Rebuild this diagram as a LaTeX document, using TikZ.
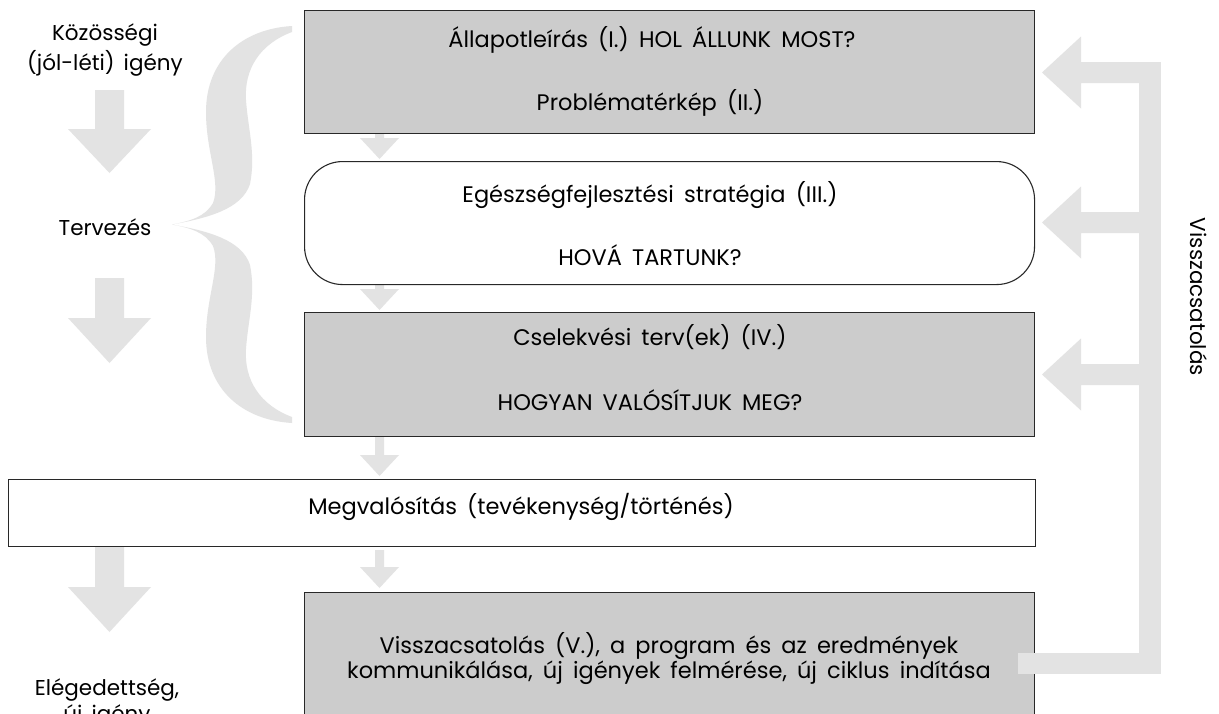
\documentclass[tikz,border=0pt]{standalone}
\usepackage{fontspec}
\setmainfont{Poppins}
\definecolor{arrowgray}{RGB}{227,227,227}
\definecolor{boxgray}{RGB}{204,204,204}
\definecolor{edgecol}{RGB}{40,40,40}
\newcommand\lblfont{\fontsize{21.5}{25}\selectfont\spaceskip=0.42em plus 0.1em\relax}
\newcommand\btxtfont{\fontsize{22.5}{26}\selectfont\spaceskip=0.45em plus 0.1em\relax}
\tikzset{
  gbox/.style={draw=edgecol, line width=1.1pt, fill=boxgray, rectangle, inner sep=0pt},
  wbox/.style={draw=edgecol, line width=1.1pt, fill=white, rectangle, inner sep=0pt},
  rbox/.style={draw=edgecol, line width=1.1pt, fill=white, rectangle, rounded corners=38pt, inner sep=0pt},
  afill/.style={fill=arrowgray, draw=none},
  lbl/.style={font=\lblfont, align=center, inner sep=0pt},
  btxt/.style={font=\btxtfont, align=center, inner sep=0pt},
}
% down block arrow: center x, shaft top, head top, tip, shaft half width, head half width
\newcommand\dblockarrow[6]{%
  \fill[afill] (#1-#5,#2) -- (#1+#5,#2) -- (#1+#5,#3) -- (#1+#6,#3) -- (#1,#4)
    -- (#1-#6,#3) -- (#1-#5,#3) -- cycle;}
% left block arrow: center y
\newcommand\lblockarrow[1]{%
  \fill[afill] (1042,#1) -- (1081,#1-36) -- (1081,#1-10.5) -- (1150,#1-10.5)
    -- (1150,#1+10.5) -- (1081,#1+10.5) -- (1081,#1+36) -- cycle;}
\begin{document}
\begin{tikzpicture}[x=1pt,y=-1pt]
\useasboundingbox (0,0) rectangle (1219,713);
\clip (0,0) rectangle (1219,713);
\fill[white] (0,0) rectangle (1219,713);

% brace
\fill[afill] (292,26) .. controls (242,29) and (206,60) .. (206,112)
  .. controls (206,152) and (221,182) .. (213,203)
  .. controls (205,217) and (190,221) .. (172,224.5)
  .. controls (190,228) and (205,232) .. (213,246)
  .. controls (221,267) and (206,297) .. (206,337)
  .. controls (206,389) and (242,420) .. (292,423)
  -- (292,417)
  .. controls (260,405) and (244,380) .. (246,349)
  .. controls (248,320) and (256,295) .. (250,265)
  .. controls (242,240) and (208,231) .. (172,224.5)
  .. controls (208,218) and (242,209) .. (250,184)
  .. controls (256,154) and (248,129) .. (246,100)
  .. controls (244,69) and (260,44) .. (292,32) -- cycle;

% left big arrows
\dblockarrow{109.5}{90}{129}{173}{14.5}{41.5}
\dblockarrow{109.5}{278}{318}{363}{14.5}{41.5}
\dblockarrow{109.5}{546}{587}{632}{14.5}{41.5}

% small arrows between boxes
\dblockarrow{379.5}{127}{138}{159}{4.5}{19.5}
\dblockarrow{379.5}{278}{289}{310}{4.5}{19.5}
\dblockarrow{379.5}{430}{455}{476}{4.5}{19.5}
\dblockarrow{379.5}{550}{567}{588}{4.5}{19.5}

% feedback arrows
\fill[afill] (1139,62) rectangle (1161,674);
\lblockarrow{72.5}
\lblockarrow{222.5}
\lblockarrow{374.5}

% boxes
\node[gbox, anchor=north west, minimum width=730, minimum height=123] (b1) at (304,10) {};
\node[rbox, anchor=north west, minimum width=730, minimum height=123] (b2) at (304,161) {};
\node[gbox, anchor=north west, minimum width=730, minimum height=124] (b3) at (304,312) {};
\node[wbox, anchor=north west, minimum width=1027, minimum height=67] (b4) at (8,479) {};
\node[gbox, anchor=north west, minimum width=730, minimum height=160] (b5) at (304,592) {};

% bottom feedback bar over box 5
\fill[afill] (1018,653) rectangle (1161,674);

% box texts
\node[btxt] (t1a) at (652,40) {Állapotleírás (I.) HOL ÁLLUNK MOST?};
\node[btxt] (t1b) at (650,103) {Problématérkép (II.)};
\node[btxt] (t2a) at (650,195) {Egészségfejlesztési stratégia (III.)};
\node[btxt] (t2b) at (650,255) {HOVÁ TARTUNK?};
\node[btxt] (t3a) at (650,337) {Cselekvési terv(ek) (IV.)};
\node[btxt] (t3b) at (650,400) {HOGYAN VALÓSÍTJUK MEG?};
\node[btxt] (t4) at (521,507) {Megvalósítás (tevékenység/történés)};
\node[btxt] (t5a) at (669,646) {Visszacsatolás (V.), a program és az eredmények};
\node[btxt] (t5b) at (669,673) {kommunikálása, új igények felmérése, új ciklus indítása};

% left labels
\node[lbl] (l1) at (105,35) {Közösségi};
\node[lbl] (l2) at (105,63) {(jól-léti) igény};
\node[lbl] (l3) at (105,227) {Tervezés};
\node[lbl] (l4) at (107,690) {Elégedettség,};
\node[lbl] (l5) at (107,716) {új igény};

% rotated label
\node[lbl, rotate=-90] (fb) at (1199,297) {Visszacsatolás};
\end{tikzpicture}
\end{document}
